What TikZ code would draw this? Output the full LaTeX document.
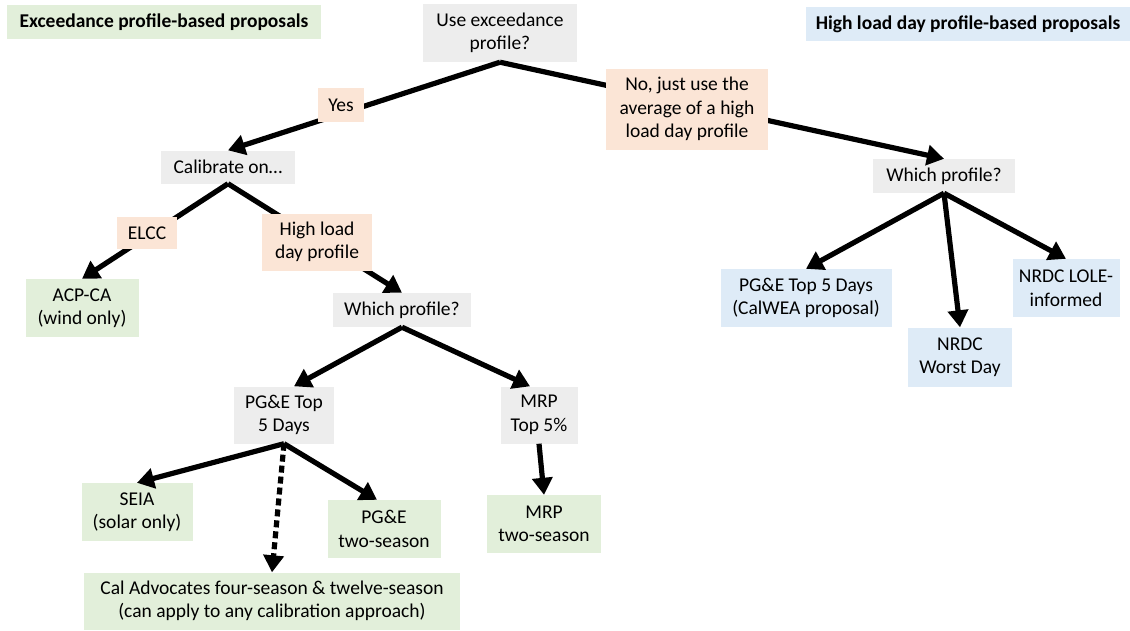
\documentclass[tikz,border=0pt]{standalone}
\usepackage{fontspec}
\setmainfont{Carlito}
\usepackage{tikz}
\usetikzlibrary{positioning, arrows.meta}

\definecolor{qgrey}{HTML}{EDEDED}
\definecolor{qgreen}{HTML}{E2EFDA}
\definecolor{qpeach}{HTML}{FBE5D6}
\definecolor{qblue}{HTML}{DEEBF7}

\begin{document}
\begin{tikzpicture}[x=1pt, y=-1pt, font=\fontsize{19.5}{23.5}\selectfont,
    box/.style={rectangle, inner sep=0pt, align=center},
    question/.style={box, fill=qgrey},
    answer/.style={box, fill=qpeach},
    exprop/.style={box, fill=qgreen},
    hiprop/.style={box, fill=qblue},
    heading/.style={box, font=\fontsize{19.5}{23}\selectfont\bfseries, minimum height=34pt},
    arrow/.style={-{Triangle[length=17pt,width=20pt]}, line width=5.2pt, draw=black},
    dotarrow/.style={arrow, dash pattern=on 7pt off 4pt}]

    \useasboundingbox (0,0) rectangle (1130,630);

    % headings
    \node[heading, exprop, minimum width=314pt] (hexc) at (164,22) {Exceedance profile-based proposals};
    \node[heading, hiprop, minimum width=324pt] (hhigh) at (968,24) {High load day profile-based proposals};

    % questions
    \node[question, minimum width=154pt, minimum height=58pt] (use) at (500,33) {Use exceedance\\profile?};
    \node[question, minimum width=134pt, minimum height=33pt] (calib) at (228,167) {Calibrate on…};
    \node[question, minimum width=138pt, minimum height=34pt] (whichL) at (402,310) {Which profile?};
    \node[question, minimum width=142pt, minimum height=34pt] (whichR) at (944,176) {Which profile?};
    \node[question, minimum width=100pt, minimum height=57pt] (pgetop) at (284,415) {PG\&E Top\\5 Days};
    \node[question, minimum width=77pt, minimum height=57pt] (mrptop) at (539,415) {MRP\\Top 5\%};

    % proposals
    \node[exprop, minimum width=113pt, minimum height=58pt] (acp) at (82,308) {ACP-CA\\(wind only)};
    \node[exprop, minimum width=111pt, minimum height=58pt] (seia) at (137,512) {SEIA\\(solar only)};
    \node[exprop, minimum width=113pt, minimum height=58pt] (pgetwo) at (384,529) {PG\&E\\two-season};
    \node[exprop, minimum width=114pt, minimum height=58pt] (mrptwo) at (544,524) {MRP\\two-season};
    \node[exprop, minimum width=376pt, minimum height=57pt] (caladv) at (272,601) {Cal Advocates four-season \& twelve-season\\(can apply to any calibration approach)};
    \node[hiprop, minimum width=171pt, minimum height=58pt] (pgecal) at (806,298) {PG\&E Top 5 Days\\(CalWEA proposal)};
    \node[hiprop, minimum width=104pt, minimum height=59pt] (nrdcworst) at (960,357) {NRDC\\Worst Day};
    \node[hiprop, minimum width=107pt, minimum height=58pt] (nrdclole) at (1066,288) {NRDC LOLE-\\informed};

    % connectors
    \draw[arrow] (use.south) -- (calib.north);
    \draw[arrow] (use.south) -- (whichR.north);
    \draw[arrow] (calib.south) -- (acp.north);
    \draw[arrow] (calib.south) -- (whichL.north);
    \draw[arrow] (whichL.south) -- ([xshift=10pt]pgetop.north);
    \draw[arrow] (whichL.south) -- ([xshift=-9pt]mrptop.north);
    \draw[arrow] (pgetop.south) -- (seia.north);
    \draw[arrow] (pgetop.south) -- ([xshift=-7pt]pgetwo.north);
    \draw[dotarrow] (pgetop.south) -- (caladv.north);
    \draw[arrow] (mrptop.south) -- (mrptwo.north);
    \draw[arrow] (whichR.south) -- (pgecal.north);
    \draw[arrow] (whichR.south) -- (nrdcworst.north);
    \draw[arrow] (whichR.south) -- (nrdclole.north);

    % answers on the connectors
    \node[answer, minimum width=46pt, minimum height=34pt] (yes) at (341,105) {Yes};
    \node[answer, minimum width=162pt, minimum height=81pt] (no) at (687,109) {No, just use the\\average of a high\\load day profile};
    \node[answer, minimum width=60pt, minimum height=32pt] (elcc) at (147,233) {ELCC};
    \node[answer, minimum width=110pt, minimum height=57pt] (hiload) at (317,242) {High load\\day profile};
\end{tikzpicture}
\end{document}
